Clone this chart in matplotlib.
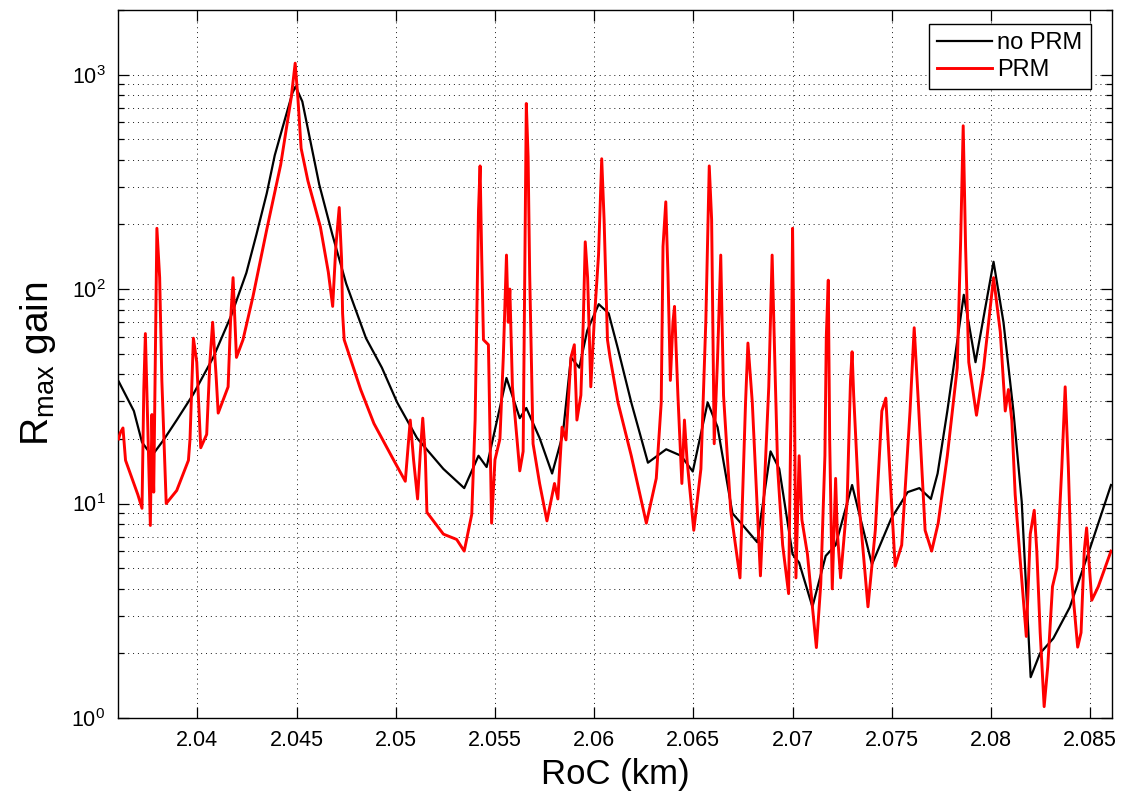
import matplotlib
matplotlib.use('Agg')
import matplotlib.pyplot as plt

plt.rcParams['font.family'] = ['Liberation Sans', 'DejaVu Sans']
plt.rcParams['mathtext.default'] = 'regular'

# ---- data (RoC in km, gain) ----
roc_noprm = [2.03604, 2.0368, 2.03721, 2.03771, 2.0383, 2.03896, 2.0398, 2.0408, 2.0417,
             2.04247, 2.04298, 2.0435, 2.0439, 2.04428, 2.04479, 2.04495, 2.04529, 2.04614,
             2.0468, 2.0475, 2.0485, 2.0493, 2.05007, 2.05107, 2.0524, 2.05345, 2.05417,
             2.05458, 2.05558, 2.05625, 2.05658, 2.05725, 2.05788, 2.05842, 2.05883, 2.05925,
             2.05965, 2.06023, 2.06073, 2.0612, 2.06187, 2.06271, 2.06363, 2.06438, 2.06497,
             2.06572, 2.06622, 2.06697, 2.06755, 2.06822, 2.06889, 2.06933, 2.07, 2.07033,
             2.071, 2.07167, 2.07217, 2.073, 2.074, 2.07497, 2.0758, 2.07639, 2.07697,
             2.07731, 2.0778, 2.07863, 2.07922, 2.08013, 2.08063, 2.08113, 2.08155, 2.082,
             2.08247, 2.08314, 2.08397, 2.08497, 2.08605]
gain_noprm = [37, 27, 19.3, 16.7, 19.8, 24.5, 32.4, 48, 75,
              119, 180, 280, 420, 560, 820, 880, 749, 308,
              180, 106, 59, 43, 29.6, 20.2, 14.5, 11.8, 16.7,
              14.8, 38.5, 25, 27.9, 20.2, 13.8, 21, 48, 43,
              64, 85, 77, 52.6, 29.6, 15.5, 17.9, 16.7, 14.1,
              29.6, 22.7, 9.0, 7.8, 6.6, 17.5, 14.5, 5.8, 5.3,
              3.3, 5.7, 6.4, 12.2, 5.2, 8.5, 11.3, 11.8, 10.5,
              13.8, 27, 94, 45.6, 134, 70, 27, 10.2, 1.55,
              2.0, 2.35, 3.28, 6.1, 12.2]

roc_prm = [2.03603, 2.03612, 2.03625, 2.03638, 2.03663, 2.037, 2.03721, 2.0373, 2.03738,
           2.03746, 2.03763, 2.03771, 2.0378, 2.03796, 2.0381, 2.03821, 2.03843, 2.03896,
           2.03955, 2.03963, 2.0398, 2.03997, 2.04017, 2.04047, 2.04063, 2.04077, 2.04094,
           2.04105, 2.04155, 2.04167, 2.0418, 2.04197, 2.0423, 2.0428, 2.0435, 2.0442,
           2.04473, 2.04493, 2.04507, 2.04523, 2.04557, 2.0462, 2.0466, 2.04682, 2.04698,
           2.04715, 2.04727, 2.04732, 2.0474, 2.04823, 2.0489, 2.0499, 2.05048, 2.05065,
           2.05073, 2.0509, 2.0511, 2.05124, 2.05136, 2.05149, 2.05157, 2.0524, 2.05307,
           2.05345, 2.05383, 2.054, 2.05408, 2.05417, 2.05425, 2.05433, 2.05442, 2.05467,
           2.05483, 2.055, 2.05525, 2.05542, 2.05558, 2.05567, 2.05575, 2.05588, 2.05625,
           2.05642, 2.0565, 2.05658, 2.05667, 2.05675, 2.05692, 2.05725, 2.05762, 2.058,
           2.05817, 2.05838, 2.05858, 2.05883, 2.059, 2.05913, 2.05933, 2.05945, 2.05955,
           2.05967, 2.05983, 2.06, 2.06022, 2.06038, 2.0605, 2.06067, 2.0608, 2.0612,
           2.06187, 2.06263, 2.06313, 2.06338, 2.06347, 2.06361, 2.06372, 2.06384, 2.06397,
           2.06405, 2.06422, 2.06442, 2.06455, 2.06468, 2.06502, 2.06538, 2.06563, 2.0658,
           2.06592, 2.06605, 2.06622, 2.06638, 2.06652, 2.06688, 2.06735, 2.06763, 2.06775,
           2.06797, 2.06838, 2.0688, 2.06897, 2.06913, 2.06925, 2.0695, 2.0698, 2.06992,
           2.07, 2.07008, 2.07017, 2.07033, 2.07047, 2.07075, 2.071, 2.0712, 2.07142,
           2.07163, 2.0717, 2.0718, 2.07187, 2.072, 2.07217, 2.07225, 2.07242, 2.07275,
           2.07292, 2.073, 2.07308, 2.07334, 2.0738, 2.07417, 2.0745, 2.0747, 2.07492,
           2.07517, 2.0755, 2.07592, 2.07613, 2.07634, 2.07668, 2.07701, 2.07734, 2.0778,
           2.0783, 2.07847, 2.0786, 2.07872, 2.07888, 2.07927, 2.07963, 2.08013, 2.08047,
           2.08072, 2.08088, 2.08105, 2.08122, 2.08147, 2.08178, 2.08198, 2.08218, 2.08231,
           2.08248, 2.08268, 2.08286, 2.0831, 2.08332, 2.08357, 2.08374, 2.0839, 2.08407,
           2.08437, 2.08454, 2.0847, 2.08482, 2.08494, 2.08508, 2.08541, 2.08605]
gain_prm = [20, 21.4, 22.5, 15.9, 13.7, 11, 9.5, 34, 62,
            32, 7.9, 26, 11.3, 192, 113, 37.5, 10, 11.5,
            15.9, 20, 59, 45.6, 18.2, 21, 45.6, 70, 40,
            26.4, 35, 70, 113, 48, 58, 92, 190, 380,
            780, 1130, 770, 453, 320, 195, 120, 83, 158,
            240, 137, 77, 58, 34, 23.6, 15.9, 12.7, 20,
            24.5, 15.9, 10.5, 17.5, 25, 16.7, 9.1, 7.2, 6.8,
            6.0, 8.9, 24.5, 72, 232, 375, 144, 58, 55,
            8.1, 16, 20, 48, 144, 70, 100, 35, 14.2,
            17.5, 117, 733, 413, 117, 19, 12.4, 8.3, 12.4,
            10.5, 22.7, 19.8, 48, 55, 24.5, 32, 70, 166,
            113, 35, 70, 144, 405, 211, 58, 48, 29.6,
            16.7, 8.1, 13.1, 29.6, 158, 255, 117, 37.5, 70,
            83, 32, 12.4, 24.5, 16, 7.5, 14.5, 72, 375,
            211, 19, 48, 144, 32, 9.3, 4.5, 29.6, 56,
            29.6, 4.6, 35, 144, 37.5, 14.5, 6.4, 3.8, 27,
            192, 45.6, 4.5, 16.7, 8.4, 5.8, 3.3, 2.13, 4.2,
            16.7, 60, 110, 20, 4.0, 13.1, 7.5, 4.5, 10.2,
            37.5, 51, 32, 10.2, 3.3, 7.5, 27, 31, 13.1,
            5.1, 6.4, 27, 66, 29.6, 7.5, 6.0, 8.1, 16.7,
            43, 166, 577, 158, 45.6, 25.8, 43, 113, 63,
            27, 34, 24.5, 11, 5.5, 2.4, 7.2, 9.3, 6,
            2.5, 1.13, 1.73, 4.1, 5.0, 14.7, 35, 14.7, 4.4,
            2.14, 2.5, 6.0, 7.7, 5.4, 3.54, 4.1, 6.0]

x_ticks = [2.04, 2.045, 2.05, 2.055, 2.06, 2.065, 2.07, 2.075, 2.08, 2.085]
x_tick_labels = ['2.04', '2.045', '2.05', '2.055', '2.06', '2.065', '2.07', '2.075', '2.08', '2.085']

# ---- figure ----
W, H = 1124, 792
fig = plt.figure(figsize=(W / 100, H / 100), dpi=100)
ax = fig.add_axes([118 / W, 74 / H, 994 / W, 708 / H])

ax.semilogy(roc_noprm, gain_noprm, color='black', lw=1.6, label='no PRM', zorder=3)
ax.semilogy(roc_prm, gain_prm, color='#ff0000', lw=2.1, label='PRM', zorder=4)

ax.set_xlim(2.036, 2.0861)
ax.set_ylim(1, 2000)
ax.set_xticks(x_ticks)
ax.set_xticklabels(x_tick_labels)

grid_kw = dict(color='black', lw=0.7, ls=(0, (1, 4)), alpha=0.9)
ax.grid(True, which='major', axis='both', **grid_kw)
ax.grid(True, which='minor', axis='y', **grid_kw)

ax.tick_params(which='both', direction='in', top=True, right=True, labelsize=15.5, width=0.9)
ax.tick_params(which='major', length=8, pad=9)
ax.tick_params(which='minor', length=4)
for s in ax.spines.values():
    s.set_linewidth(1.0)

ax.set_xlabel('RoC (km)', fontsize=25)
ax.xaxis.set_label_coords(0.5, -0.057)
ax.set_ylabel(r'R$_{max}$ gain', fontsize=28)
ax.yaxis.set_label_coords(-0.06, 0.5)

leg = ax.legend(loc='upper right', bbox_to_anchor=((1091 - 118) / 994, (718 - 24) / 708),
                borderaxespad=0, fontsize=17, handlelength=2.3, handletextpad=0.25,
                labelspacing=0.2, borderpad=0.35, fancybox=False, framealpha=1,
                edgecolor='black')
leg.get_frame().set_linewidth(1.0)

fig.savefig('out.png', dpi=100)
